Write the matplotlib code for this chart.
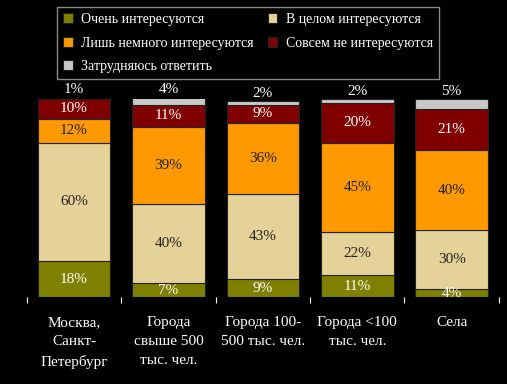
"""Interest by settlement type, stacked 100% bars."""
import numpy as np
import matplotlib
matplotlib.use("Agg")
from matplotlib import pyplot as plt

categories = [
    "Москва,\nСанкт-\nПетербург",
    "Города\nсвыше 500\nтыс. чел.",
    "Города 100-\n500 тыс. чел.",
    "Города <100\nтыс. чел.",
    "Села",
]
series_names = [
    "Очень интересуются",
    "В целом интересуются",
    "Лишь немного интересуются",
    "Совсем не интересуются",
    "Затрудняюсь ответить",
]
very = [18, 7, 9, 11, 4]
overall = [60, 40, 43, 22, 30]
little = [12, 39, 36, 45, 40]
not_at_all = [10, 11, 9, 20, 21]
hard_to_say = [1, 4, 2, 2, 5]

colors = ["#808000", "#E5D298", "#FF9900", "#800000", "#C8C8C8"]
text_colors = ["white", "#222222", "#222222", "white", "white"]

plt.rcParams["font.family"] = ["Liberation Serif", "DejaVu Serif"]

fig = plt.figure(figsize=(5.07, 3.84), dpi=100, facecolor="black")
ax = fig.add_axes([0.053, 0.2266, 0.931, 0.5156], facecolor="black")

x = np.arange(len(categories))
data = [very, overall, little, not_at_all, hard_to_say]
bottom = np.zeros(len(categories))
handles = []
for i, (vals, name) in enumerate(zip(data, series_names)):
    vals = np.array(vals, dtype=float)
    bars = ax.bar(x, vals, width=0.77, bottom=bottom, color=colors[i],
                  edgecolor="#222222", linewidth=0.8, label=name)
    handles.append(bars)
    for xi, v, b in zip(x, vals, bottom):
        if i < 4:
            ax.text(xi, b + v / 2, f"{int(v)}%", ha="center", va="center",
                    color=text_colors[i], fontsize=11)
        else:
            ax.text(xi, b + v + 0.5, f"{int(v)}%", ha="center", va="bottom",
                    color="white", fontsize=11, clip_on=False)
    bottom += vals

ax.set_xlim(-0.5, len(categories) - 0.5)
ax.set_ylim(0, 100)
ax.set_yticks([])
ax.set_xticks(x)
ax.set_xticklabels(categories, color="white", fontsize=11, linespacing=1.6)
ax.tick_params(axis="x", which="major", length=0, pad=14)
ax.set_xticks(np.arange(len(categories) + 1) - 0.5, minor=True)
ax.tick_params(axis="x", which="minor", length=4, color="white", width=0.8)
for s in ax.spines.values():
    s.set_visible(False)

order = [0, 2, 4, 1, 3]
leg = fig.legend([handles[k] for k in order], [series_names[k] for k in order],
                 ncol=2, loc="upper left", bbox_to_anchor=(0.112, 0.982),
                 borderaxespad=0, frameon=True, fancybox=False,
                 facecolor="black", edgecolor="#AAAAAA", fontsize=10,
                 handlelength=0.7, handleheight=0.7, columnspacing=1.0,
                 labelspacing=0.75, borderpad=0.45, handletextpad=0.6)
for t in leg.get_texts():
    t.set_color("white")

fig.savefig("out.png", dpi=100, facecolor="black")
